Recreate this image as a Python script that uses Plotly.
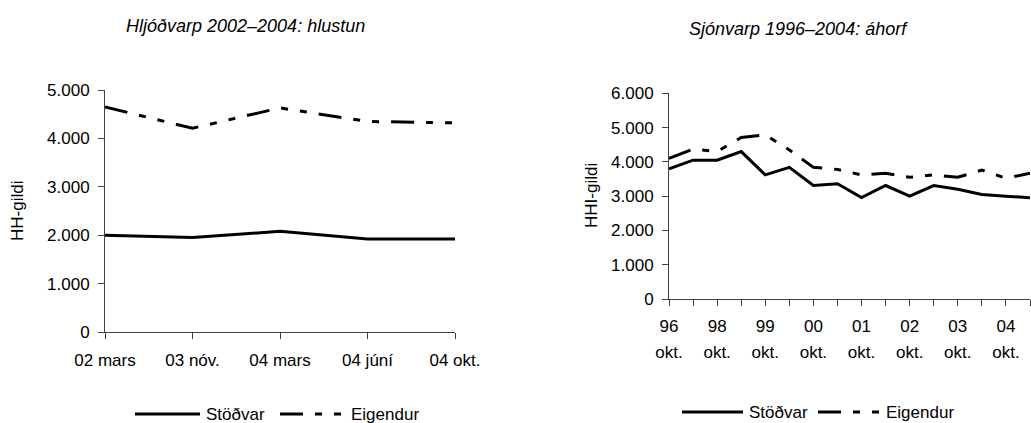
import plotly.graph_objects as go

# ---- data ----
radio_categories = ["02 mars", "03 nóv.", "04 mars", "04 júní", "04 okt."]
radio_stodvar = [2000, 1950, 2080, 1920, 1920]
radio_eigendur = [4650, 4210, 4630, 4350, 4320]

tv_years = ["96", "", "98", "", "99", "", "00", "", "01", "", "02", "", "03", "", "04", ""]
tv_months = ["okt.", "", "okt.", "", "okt.", "", "okt.", "", "okt.", "", "okt.", "", "okt.", "", "okt.", ""]
tv_stodvar = [3800, 4050, 4050, 4300, 3620, 3840, 3310, 3360, 2960, 3310, 3000, 3310, 3200, 3050, 3000, 2950]
tv_eigendur = [4100, 4370, 4300, 4710, 4790, 4350, 3840, 3780, 3620, 3670, 3550, 3620, 3550, 3760, 3520, 3670]

radio_yticks = [0, 1000, 2000, 3000, 4000, 5000]
tv_yticks = [0, 1000, 2000, 3000, 4000, 5000, 6000]

def fmt(v):
    return f"{v:,}".replace(",", ".")

W, H = 1031, 423
FONT = "Liberation Sans, Arial, sans-serif"
AXC = "#404040"
DASH = "23px,12px,7px,12px,7px,12px"
TS = 17

fig = go.Figure()
rx = list(range(len(radio_categories)))
tx = list(range(len(tv_years)))

fig.add_trace(go.Scatter(x=rx, y=radio_stodvar, mode="lines", name="Stöðvar",
                         line=dict(color="black", width=3), xaxis="x", yaxis="y", showlegend=False))
fig.add_trace(go.Scatter(x=rx, y=radio_eigendur, mode="lines", name="Eigendur",
                         line=dict(color="black", width=3, dash=DASH), xaxis="x", yaxis="y", showlegend=False))
fig.add_trace(go.Scatter(x=tx, y=tv_stodvar, mode="lines", name="Stöðvar",
                         line=dict(color="black", width=3), xaxis="x2", yaxis="y2", showlegend=False))
fig.add_trace(go.Scatter(x=tx, y=tv_eigendur, mode="lines", name="Eigendur",
                         line=dict(color="black", width=3, dash=DASH), xaxis="x2", yaxis="y2", showlegend=False))
# invisible helper trace so the second-line month labels axis is drawn
fig.add_trace(go.Scatter(x=tx, y=tv_stodvar, mode="lines", line=dict(width=0), opacity=0,
                         hoverinfo="skip", xaxis="x3", yaxis="y2", showlegend=False))

def px_x(p):
    return p / W

def px_y(p):
    return 1 - p / H

axis_common = dict(showgrid=False, zeroline=False, showline=True, linecolor=AXC, linewidth=1,
                   ticks="outside", ticklen=6, tickcolor=AXC, tickwidth=1, automargin=False,
                   tickfont=dict(family=FONT, size=TS, color="black"))

fig.update_layout(
    template="none",
    width=W, height=H,
    margin=dict(l=0, r=0, t=0, b=0, autoexpand=False),
    paper_bgcolor="white", plot_bgcolor="white",
    showlegend=False,
    xaxis=dict(domain=[px_x(105), px_x(455)], range=[0, len(rx) - 1], anchor="y",
               tickmode="array", tickvals=rx, ticktext=radio_categories, ticklabelstandoff=7,
               **axis_common),
    yaxis=dict(domain=[px_y(332), px_y(90)], range=[0, 5000], anchor="x",
               tickmode="array", tickvals=radio_yticks, ticktext=[fmt(v) for v in radio_yticks],
               ticklabelstandoff=5, **axis_common),
    xaxis2=dict(domain=[px_x(669), px_x(1030)], range=[0, len(tx) - 1], anchor="y2",
                tickmode="array", tickvals=tx, ticktext=tv_years, ticklabelstandoff=6,
                **axis_common),
    xaxis3=dict(domain=[px_x(669), px_x(1030)], range=[0, len(tx) - 1], anchor="y2",
                overlaying="x2", side="bottom", showgrid=False, zeroline=False, showline=False,
                ticks="", automargin=False, tickmode="array", tickvals=tx, ticktext=tv_months,
                ticklabelstandoff=41, tickfont=dict(family=FONT, size=TS, color="black")),
    yaxis2=dict(domain=[px_y(299), px_y(93.3)], range=[0, 6000], anchor="x2",
                tickmode="array", tickvals=tv_yticks, ticktext=[fmt(v) for v in tv_yticks],
                ticklabelstandoff=5, **axis_common),
)

ann = []
def text(x, y, s, size=TS, italic=False, angle=0, xanchor="center"):
    ann.append(dict(x=px_x(x), y=px_y(y), xref="paper", yref="paper", text=s, showarrow=False,
                    xanchor=xanchor, yanchor="middle", textangle=angle,
                    font=dict(family=FONT, size=size, color="black",
                              style="italic" if italic else "normal")))

text(245, 26, "Hljóðvarp 2002–2004: hlustun", size=18, italic=True)
text(798, 29, "Sjónvarp 1996–2004: áhorf", size=18, italic=True)
text(18, 211, "HH-gildi", angle=-90)
text(591, 196, "HHI-gildi", angle=-90)

# legends
shapes = []
def legend(x_line0, x_line1, x_txt1, x_dash0, x_dash1, x_txt2, y):
    shapes.append(dict(type="line", xref="paper", yref="paper", x0=px_x(x_line0), x1=px_x(x_line1),
                       y0=px_y(y), y1=px_y(y), line=dict(color="black", width=3)))
    shapes.append(dict(type="line", xref="paper", yref="paper", x0=px_x(x_dash0), x1=px_x(x_dash1),
                       y0=px_y(y), y1=px_y(y), line=dict(color="black", width=3, dash=DASH)))
    text(x_txt1, y, "Stöðvar", xanchor="left")
    text(x_txt2, y, "Eigendur", xanchor="left")

legend(135, 200, 204, 280, 347, 349, 414)
legend(682, 743, 747, 818, 880, 884, 412)

fig.update_layout(annotations=ann, shapes=shapes)
fig.write_html("out.html")
